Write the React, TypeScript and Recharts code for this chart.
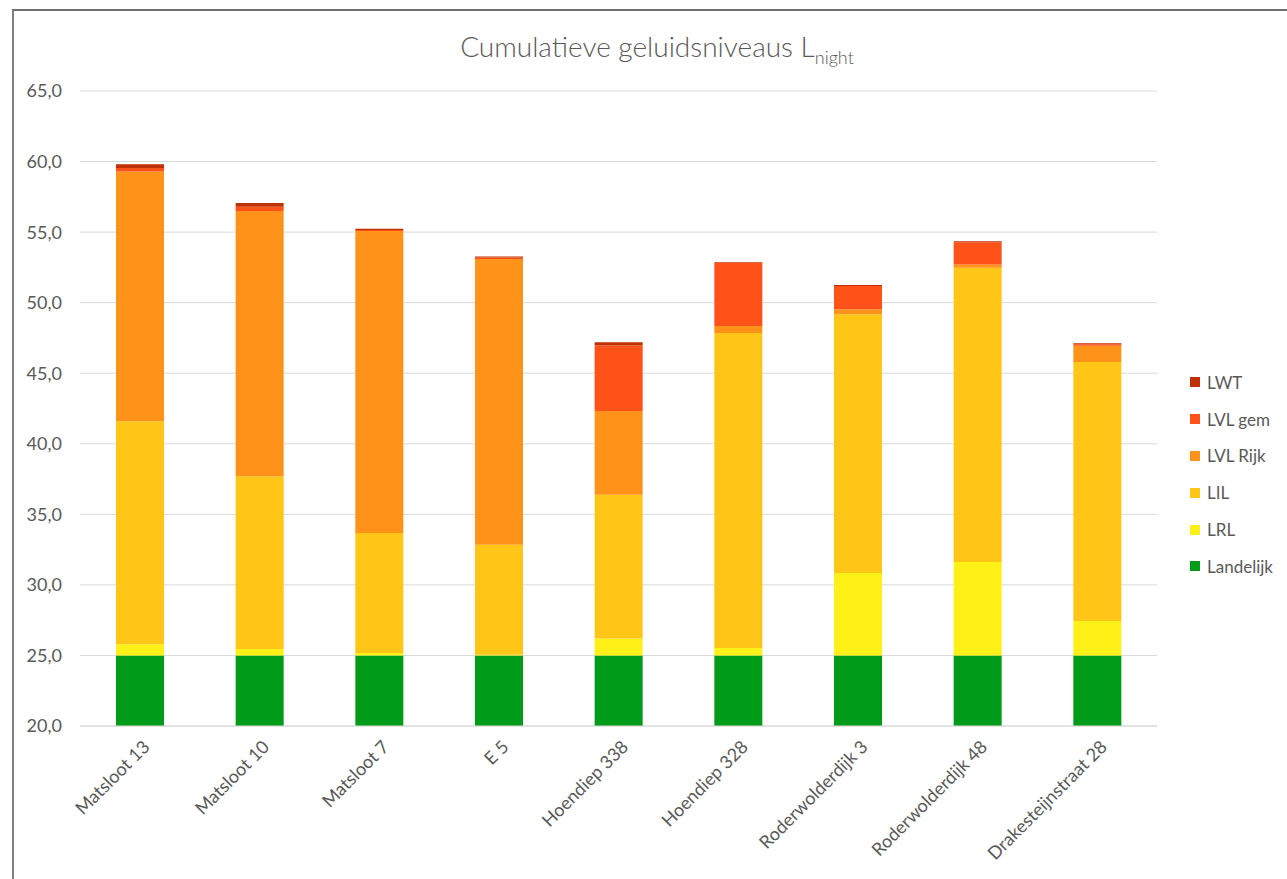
import { Bar, BarChart, CartesianGrid, XAxis, YAxis } from "recharts";

const locations = [
  "Matsloot 13",
  "Matsloot 10",
  "Matsloot 7",
  "E 5",
  "Hoendiep 338",
  "Hoendiep 328",
  "Roderwolderdijk 3",
  "Roderwolderdijk 48",
  "Drakesteijnstraat 28",
];

// stacked increments per source (dB)
const landelijk = [25, 25, 25, 25, 25, 25, 25, 25, 25];
const lrl = [0.8, 0.45, 0.17, 0.05, 1.2, 0.53, 5.84, 6.62, 2.44];
const lil = [15.8, 12.25, 8.5, 7.8, 10.18, 22.32, 18.34, 20.86, 18.36];
const lvlRijk = [17.7, 18.8, 21.4, 20.25, 5.95, 0.5, 0.35, 0.23, 1.15];
const lvlGem = [0.25, 0.3, 0.08, 0.1, 4.63, 4.49, 1.65, 1.57, 0.1];
const lwt = [0.26, 0.27, 0.09, 0.07, 0.24, 0.04, 0.07, 0.07, 0.07];

const yTicks = [20, 25, 30, 35, 40, 45, 50, 55, 60, 65];

const SERIES = [
  { key: "Landelijk", color: "#009B18" },
  { key: "LRL", color: "#FFF017" },
  { key: "LIL", color: "#FFC517" },
  { key: "LVL Rijk", color: "#FF9218" },
  { key: "LVL gem", color: "#FF5219" },
  { key: "LWT", color: "#BF3100" },
];

const FONT = "Lato, 'Open Sans', sans-serif";
const TEXT = "#595959";

const data = locations.map((name, i) => ({
  name,
  Landelijk: landelijk[i],
  LRL: lrl[i],
  LIL: lil[i],
  "LVL Rijk": lvlRijk[i],
  "LVL gem": lvlGem[i],
  LWT: lwt[i],
}));

const fmt = (v: number) => v.toFixed(1).replace(".", ",");

function XTick({ x, y, payload }: any) {
  const tx = x + 11;
  const ty = y + 14;
  return (
    <text
      x={tx}
      y={ty}
      textAnchor="end"
      fill={TEXT}
      fontSize={18}
      fontFamily={FONT}
      transform={`rotate(-45, ${tx}, ${ty})`}
    >
      {payload.value}
    </text>
  );
}

export default function App() {
  return (
    <div
      style={{
        position: "absolute",
        left: 0,
        top: 0,
        width: 1287,
        height: 879,
        background: "#fff",
        overflow: "hidden",
      }}
    >
      <div
        style={{
          position: "absolute",
          left: 12,
          top: 9,
          width: 1290,
          height: 880,
          borderLeft: "2px solid #7f7f7f",
          borderTop: "2px solid #6f6f6f",
        }}
      />
      <div
        style={{
          position: "absolute",
          left: 0,
          top: 29,
          width: 1314,
          textAlign: "center",
          fontFamily: FONT,
          fontSize: 28,
          fontWeight: 300,
          color: TEXT,
          whiteSpace: "nowrap",
        }}
      >
        Cumulatieve geluidsniveaus L
        <sub style={{ fontSize: 18 }}>night</sub>
      </div>
      <BarChart
        width={1287}
        height={879}
        data={data}
        margin={{ top: 91, right: 130, bottom: 0, left: 20 }}
        style={{ position: "absolute", left: 0, top: 0 }}
      >
        <CartesianGrid vertical={false} stroke="#d9d9d9" strokeWidth={1} />
        <XAxis
          dataKey="name"
          height={153}
          tick={<XTick />}
          tickLine={false}
          axisLine={{ stroke: "#d9d9d9" }}
          interval={0}
        />
        <YAxis
          width={60}
          domain={[20, 65]}
          ticks={yTicks}
          allowDataOverflow
          tickFormatter={fmt}
          tickLine={false}
          axisLine={false}
          tickSize={0}
          tickMargin={18}
          tick={{ fill: TEXT, fontSize: 18, fontFamily: FONT }}
        />
        {SERIES.map((s) => (
          <Bar
            key={s.key}
            dataKey={s.key}
            stackId="a"
            fill={s.color}
            barSize={48}
            isAnimationActive={false}
          />
        ))}
      </BarChart>
      <div
        style={{
          position: "absolute",
          left: 1190,
          top: 364,
          fontFamily: FONT,
          fontSize: 17,
          color: TEXT,
          whiteSpace: "nowrap",
        }}
      >
        {[...SERIES].reverse().map((s) => (
          <div
            key={s.key}
            style={{ display: "flex", alignItems: "center", height: 36.8 }}
          >
            <span
              style={{
                width: 10,
                height: 10,
                background: s.color,
                marginRight: 7,
                display: "inline-block",
              }}
            />
            {s.key}
          </div>
        ))}
      </div>
    </div>
  );
}
